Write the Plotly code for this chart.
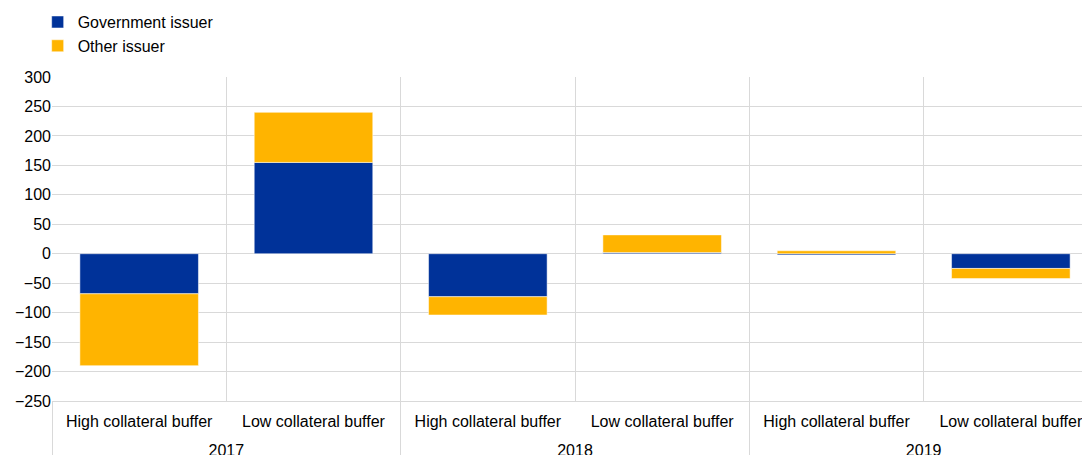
import plotly.graph_objects as go

years = ["2017", "2017", "2018", "2018", "2019", "2019"]
buffers = ["High collateral buffer", "Low collateral buffer"] * 3
government = [-68, 155, -73, 2, -2, -25]
other = [-122, 85, -31, 30, 5, -17]

BLUE = "#003299"
ORANGE = "#FFB400"
GRID = "#d9d9d9"
FONT = "Liberation Sans, Arial, sans-serif"

# unique category keys, labelled by buffer; years drawn on a second axis
keys = [f"{y} | {b}" for y, b in zip(years, buffers)]
groups = list(dict.fromkeys(years))
idx = {g: [i for i, y in enumerate(years) if y == g] for g in groups}
group_centers = [sum(idx[g]) / len(idx[g]) for g in groups]
group_bounds = [min(idx[g]) - 0.5 for g in groups] + [max(idx[groups[-1]]) + 0.5]

fig = go.Figure()
fig.add_trace(go.Bar(x=keys, y=government, name="Government issuer",
                     marker=dict(color=BLUE, line=dict(color="white", width=0.5))))
fig.add_trace(go.Bar(x=keys, y=other, name="Other issuer",
                     marker=dict(color=ORANGE, line=dict(color="white", width=0.5))))
fig.add_trace(go.Scatter(x=[], y=[], xaxis="x2", showlegend=False, hoverinfo="skip"))

fig.update_layout(
    width=1090, height=455,
    barmode="relative",
    bargap=0.32,
    plot_bgcolor="white", paper_bgcolor="white",
    font=dict(family=FONT, size=16, color="#000000"),
    margin=dict(l=44, r=0, t=69, b=62, autoexpand=False),
    legend=dict(x=-0.0137, y=1.222, xref="paper", yref="paper", xanchor="left", yanchor="top",
                orientation="v", font=dict(size=16), bgcolor="rgba(0,0,0,0)",
                traceorder="normal"),
    showlegend=True,
    xaxis=dict(type="category", categoryorder="array", categoryarray=keys,
               tickmode="array", tickvals=keys, ticktext=buffers,
               tickson="boundaries", showgrid=True, gridcolor=GRID, gridwidth=1,
               ticks="", ticklabelstandoff=6, showline=True, linecolor=GRID,
               tickfont=dict(size=16), automargin=False),
    xaxis2=dict(overlaying="x", anchor="y", side="bottom", type="linear",
                range=[-0.5, len(keys) - 0.5], tickmode="array",
                tickvals=group_centers, ticktext=groups, ticks="", showgrid=False,
                zeroline=False, showline=False, ticklabelstandoff=38,
                tickfont=dict(size=16), automargin=False,
                minor=dict(tickmode="array", tickvals=group_bounds, ticks="outside",
                           ticklen=54, tickcolor=GRID, tickwidth=1, showgrid=False)),
    yaxis=dict(range=[-250, 300], dtick=50, showgrid=True, gridcolor=GRID, gridwidth=1,
               zeroline=False, showline=False, ticks="", tickfont=dict(size=16),
               automargin=False),
)

fig.write_html("out.html")
